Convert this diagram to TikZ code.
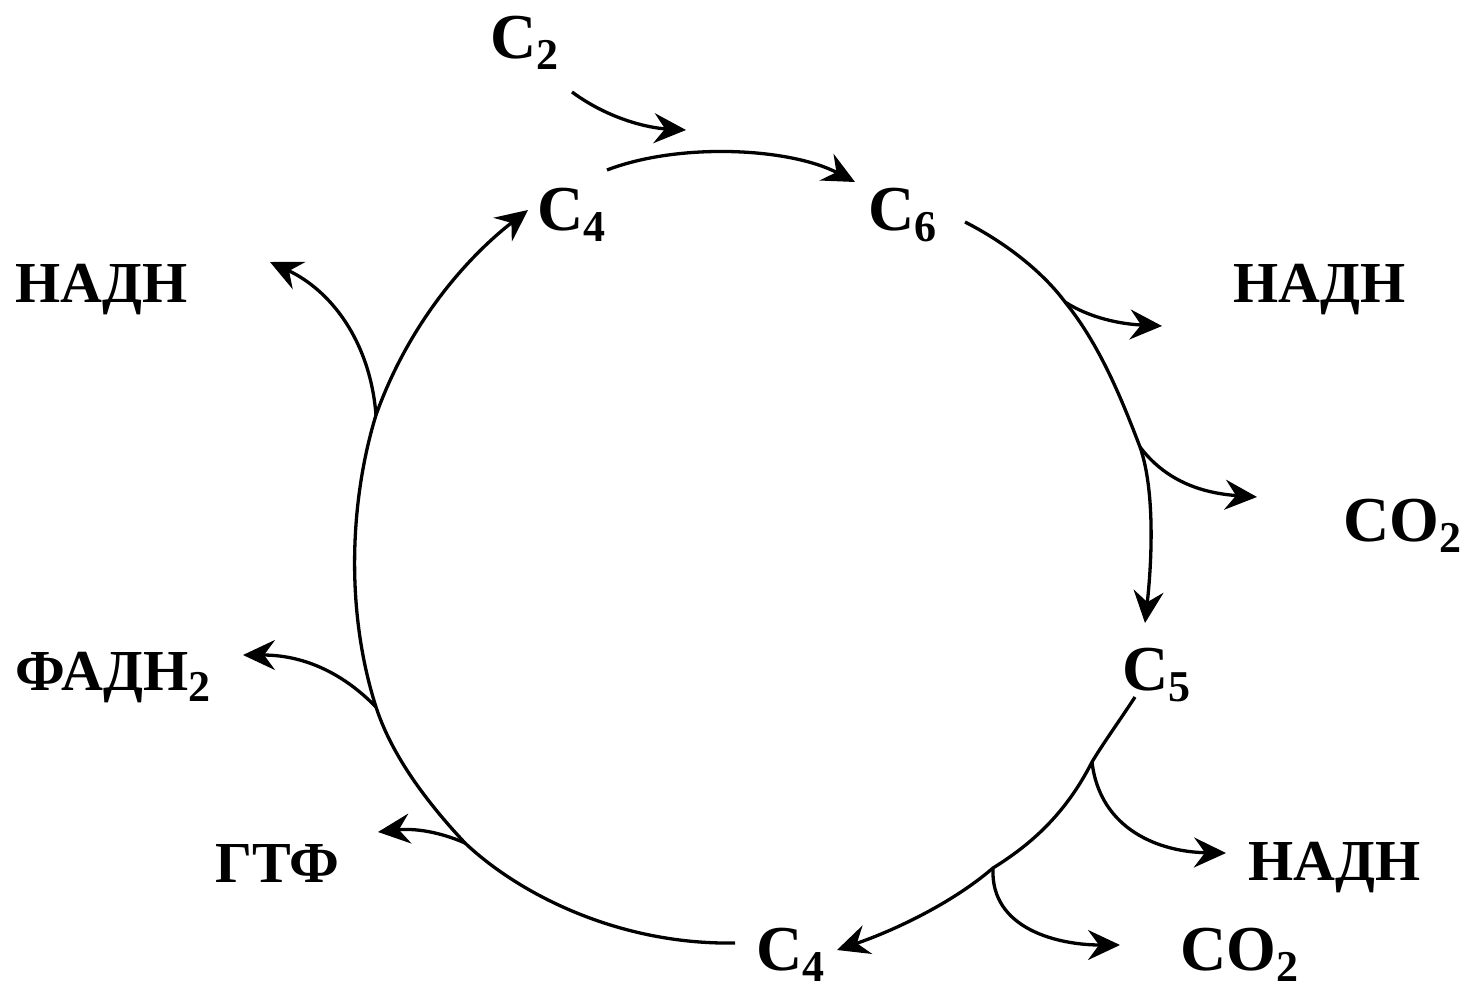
\documentclass[tikz,border=0pt]{standalone}
\usepackage{fontspec}
\setmainfont{Liberation Serif}
\usetikzlibrary{arrows.meta,calc}
\newcommand\subs[1]{\raisebox{-11pt}{\fontsize{44}{44}\selectfont #1}}
\begin{document}
\begin{tikzpicture}[x=1pt,y=-1pt,
  mol/.style={font=\fontsize{64}{64}\selectfont\bfseries, inner sep=0pt, anchor=base west},
  lbl/.style={font=\fontsize{58}{58}\selectfont\bfseries, inner sep=0pt, anchor=base west},
  flow/.style={line width=3.3pt, -{Stealth[length=32pt,width=30pt,inset=11pt]}}]
\useasboundingbox[fill=white] (0,0) rectangle (1464,988);
% nodes
\node[mol] (c2)  at (490,58)  {C\subs{2}};
\node[mol] (c4t) at (537,230) {C\subs{4}};
\node[mol] (c6)  at (868,230) {C\subs{6}};
\node[mol] (c5)  at (1122,690) {C\subs{5}};
\node[mol] (c4b) at (756,970) {C\subs{4}};
\node[lbl] (nadh1) at (1233,302) {НАДН};
\node[mol] (co2a)  at (1343,541) {CO\subs{2}};
\node[lbl] (nadh2) at (1248,880) {НАДН};
\node[mol] (co2b)  at (1180,970) {CO\subs{2}};
\node[lbl] (gtf)   at (215,882) {ГТФ};
\node[lbl] (fad)   at (15,690)  {ФАДН\subs{2}};
\node[lbl] (nadh3) at (15,302)  {НАДН};
% branch points
\coordinate (j)  at (686,130);
\coordinate (b1) at (1065,302);
\coordinate (b2) at (1140,447);
\coordinate (b3) at (1092,762);
\coordinate (b4) at (993,868);
\coordinate (b5) at (465,843);
\coordinate (b6) at (376,707);
\coordinate (b7) at (376,415);
% C2 input
\draw[flow] ([shift={(82,34)}]c2.base west) .. controls (610,120) and (650,128) .. (j);
% C4 -> C6
\draw[flow] ([shift={(70,-60)}]c4t.base west) .. controls (680,142) and (790,148) .. ([shift={(-13,-48)}]c6.base west);
% C6 -> C5
\draw[flow] ([shift={(97,-8)}]c6.base west) .. controls (1010,245) and (1045,275) .. (b1)
   .. controls (1100,345) and (1122,400) .. (b2)
   .. controls (1155,490) and (1152,560) .. ([shift={(23,-67)}]c5.base west);
\draw[flow] (b1) .. controls (1090,318) and (1120,324) .. ([shift={(-71,24)}]nadh1.base west);
\draw[flow] (b2) .. controls (1165,480) and (1200,493) .. ([shift={(-86,-44)}]co2a.base west);
% C5 -> C4
\draw[flow] ([shift={(13,7)}]c5.base west) .. controls (1120,720) and (1102,745) .. (b3)
   .. controls (1065,815) and (1030,845) .. (b4)
   .. controls (950,905) and (890,932) .. ([shift={(81,-20)}]c4b.base west);
\draw[flow] (b3) .. controls (1100,830) and (1160,852) .. ([shift={(-22,-27)}]nadh2.base west);
\draw[flow] (b4) .. controls (990,930) and (1060,945) .. ([shift={(-60,-25)}]co2b.base west);
% C4 -> C4
\draw[flow] ([shift={(-21,-27)}]c4b.base west) .. controls (620,945) and (520,895) .. (b5)
   .. controls (420,795) and (390,750) .. (b6)
   .. controls (345,610) and (350,500) .. (b7)
   .. controls (410,320) and (470,255) .. ([shift={(-9,-20)}]c4t.base west);
\draw[flow] (b5) .. controls (440,832) and (415,828) .. ([shift={(163,-50)}]gtf.base west);
\draw[flow] (b6) .. controls (340,670) and (300,655) .. ([shift={(228,-35)}]fad.base west);
\draw[flow] (b7) .. controls (370,340) and (330,290) .. ([shift={(255,-40)}]nadh3.base west);
\end{tikzpicture}
\end{document}
